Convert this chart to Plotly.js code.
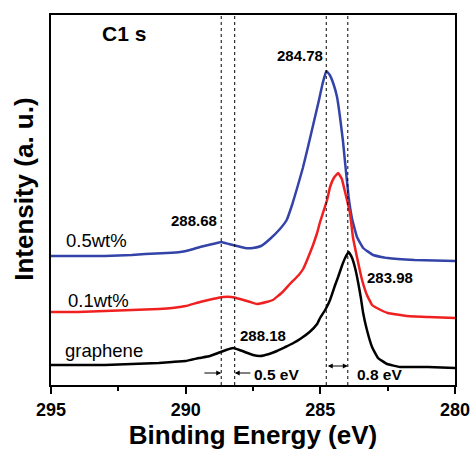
<!DOCTYPE html>
<html>
<head>
<meta charset="utf-8">
<script src="https://cdn.plot.ly/plotly-3.0.1.min.js"></script>
<style>html,body{margin:0;padding:0;background:#fff;}#chart{width:471px;height:450px;}</style>
</head>
<body>
<div id="chart"></div>
<script>
// Binding energy (eV) and intensity (a.u.)
const energyBlue = [295.0,294.0,293.0,292.0,291.5,290.7,290.2,289.84,289.47,289.0,288.68,288.4,288.1,287.8,287.5,287.2,286.87,286.5,286.25,286.05,285.85,285.65,285.45,285.25,285.05,284.92,284.78,284.65,284.5,284.38,284.27,284.16,284.05,283.95,283.82,283.64,283.41,283.04,282.5,281.5,280.0];
const intBlue    = [129,129,129,130,131,132,133,135,138,141,143,141,139,137,137,139,146,156,165,180,198,217,239,262,285,301,314,310,300,288,268,244,214,188,166,148,137,130,127,125,124];

const energyRed = [295.0,294.0,293.0,292.0,291.0,290.5,290.0,289.47,289.0,288.61,288.3,287.98,287.6,287.35,287.0,286.76,286.4,286.13,285.8,285.64,285.49,285.27,285.12,285.01,284.75,284.64,284.5,284.34,284.2,284.1,283.9,283.79,283.64,283.45,283.27,283.08,282.9,282.5,281.8,281.0,280.0];
const intRed    = [73,73,74,75,76,77,79,83,86,88,88,86,83,81,83,85,93,101,110,116,125,140,152,163,185,198,207,212,206,195,172,148,128,105,90,80,77,72,69,68,67];

const energyBlack = [295.0,294.0,293.0,292.0,291.0,290.5,290.0,289.5,289.1,288.8,288.5,288.24,288.0,287.8,287.5,287.24,286.9,286.61,286.3,286.0,285.75,285.4,285.12,285.01,284.8,284.64,284.45,284.34,284.2,284.08,283.95,283.82,283.7,283.6,283.5,283.41,283.27,283.08,282.86,282.52,282.04,281.0,280.0];
const intBlack    = [20,20,20,21,22,23,24,27,29,32,35,37,35,33,30,29,31,34,38,42,46,53,61,67,76,85,100,108,119,127,133,127,116,103,88,72,55,38,27,21,18,18,17];

const seriesNames = ["0.5wt%","0.1wt%","graphene"];
const peakMarkers = [288.68,288.18,284.78,283.98];
const xTickVals = [295,290,285,280];
const xTickText = ["295","290","285","280"];
const xMinorTicks = [292.5,287.5,282.5];

const FONT = "Liberation Sans, Arial, Helvetica, sans-serif";

const traces = [
  {x: energyBlue, y: intBlue, name: seriesNames[0], mode: "lines", line: {color: "#3343a8", width: 2.5, shape: "spline", smoothing: 0.3}},
  {x: energyRed, y: intRed, name: seriesNames[1], mode: "lines", line: {color: "#f02020", width: 2.5, shape: "spline", smoothing: 0.3}},
  {x: energyBlack, y: intBlack, name: seriesNames[2], mode: "lines", line: {color: "#000000", width: 2.5, shape: "spline", smoothing: 0.3}}
];

const shapes = peakMarkers.map(v => ({
  type: "line", xref: "x", yref: "paper", x0: v, x1: v, y0: 0, y1: 1,
  line: {color: "#000", width: 1, dash: "dot"}
}));

function txt(x, y, text, size, bold) {
  return {x: x, y: y, xref: "x", yref: "y", text: text, showarrow: false,
    font: {family: FONT, size: size, color: "#000", weight: bold ? "bold" : "normal"}};
}
function arrow(xTip, xTail, y, both) {
  return {x: xTip, y: y, ax: xTail, ay: y, xref: "x", yref: "y", axref: "x", ayref: "y",
    text: "", showarrow: true, arrowhead: 2, arrowsize: 1, arrowwidth: 1, arrowcolor: "#000",
    arrowside: both ? "end+start" : "end"};
}

const annotations = [
  txt(292.29, 352, "C1 s", 21, true),
  txt(285.75, 330, "284.78", 15, true),
  txt(289.69, 165, "288.68", 15, true),
  txt(282.42, 108, "283.98", 15, true),
  txt(287.13, 50, "288.18", 15, true),
  txt(286.62, 11, "0.5 eV", 15.5, true),
  txt(282.80, 11, "0.8 eV", 15.5, true),
  txt(293.30, 145, seriesNames[0], 18.5, false),
  txt(293.23, 85, seriesNames[1], 18.5, false),
  txt(293.03, 35, seriesNames[2], 18.5, false),
  arrow(288.68, 289.36, 12, false),
  arrow(288.18, 287.54, 12, false),
  arrow(283.98, 284.78, 19, true),
  {xref: "paper", yref: "paper", x: -0.067, y: 0.53, text: "Intensity (a. u.)", textangle: -90,
   showarrow: false, xanchor: "center", yanchor: "middle",
   font: {family: FONT, size: 26, weight: "bold", color: "#000"}}
];

const layout = {
  width: 471, height: 450,
  margin: {l: 51, r: 16, t: 15, b: 65},
  paper_bgcolor: "#fff", plot_bgcolor: "#fff",
  showlegend: false,
  font: {family: FONT, color: "#000"},
  xaxis: {
    range: [295, 280], tickmode: "array", tickvals: xTickVals, ticktext: xTickText,
    ticks: "outside", ticklen: 7, tickwidth: 2, tickcolor: "#000",
    minor: {tickmode: "array", tickvals: xMinorTicks, ticks: "outside", ticklen: 4, tickwidth: 2, tickcolor: "#000"},
    showgrid: false, zeroline: false, showline: true, mirror: true, linewidth: 2, linecolor: "#000",
    tickfont: {family: FONT, size: 18, weight: "bold", color: "#000"},
    title: {text: "Binding Energy (eV)", font: {family: FONT, size: 26, weight: "bold", color: "#000"}, standoff: 8}
  },
  yaxis: {
    range: [0, 370], showticklabels: false, ticks: "", showgrid: false, zeroline: false,
    showline: true, mirror: true, linewidth: 2, linecolor: "#000"
  },
  shapes: shapes,
  annotations: annotations
};

Plotly.newPlot("chart", traces, layout, {displayModeBar: false, staticPlot: true});
</script>
</body>
</html>
